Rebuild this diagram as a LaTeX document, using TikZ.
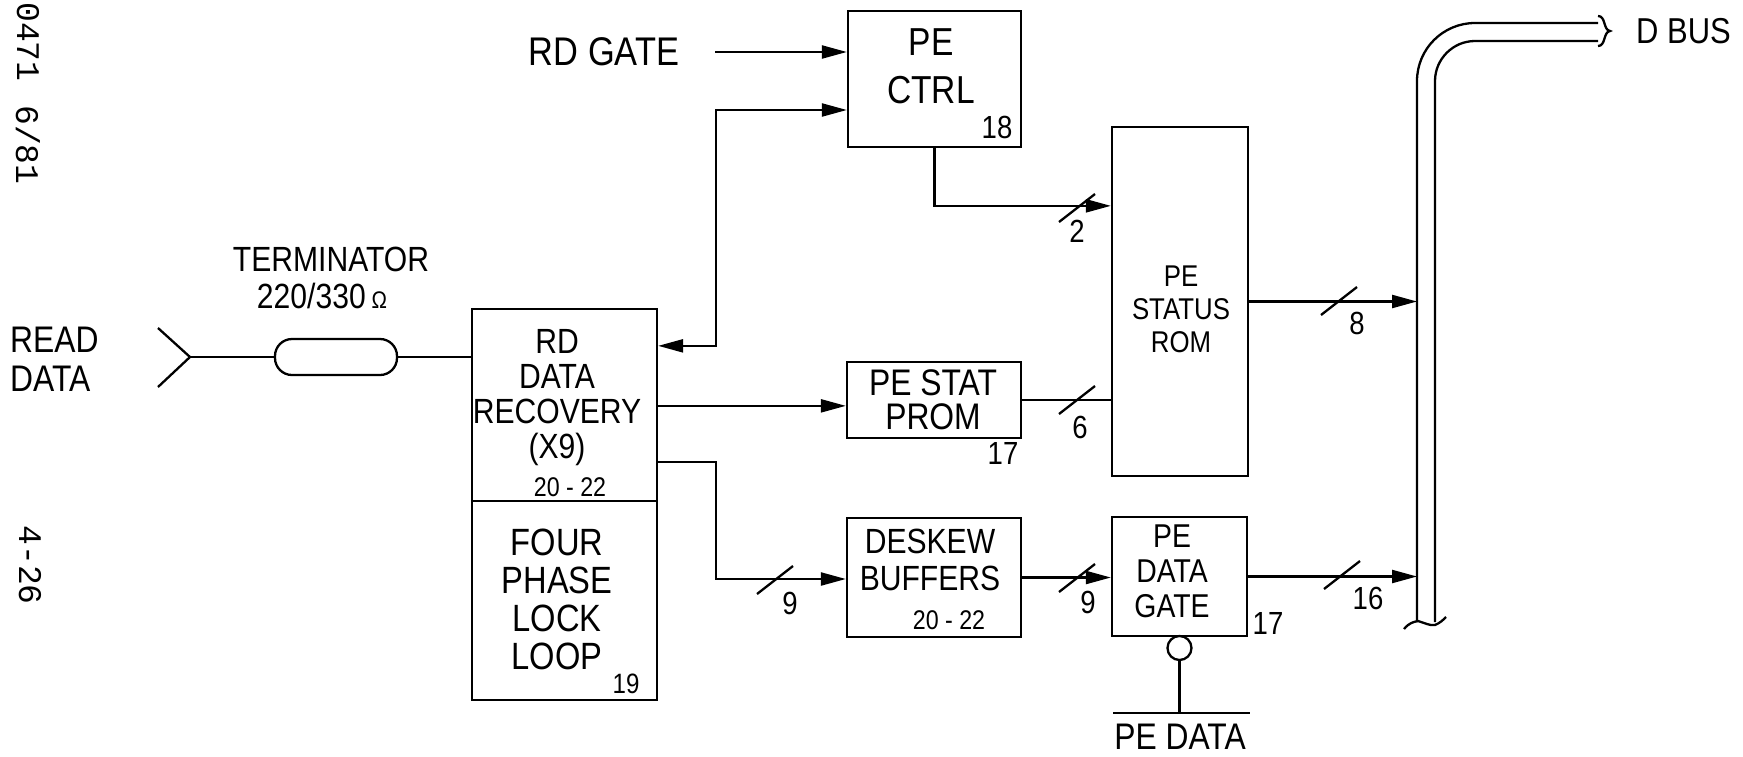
\documentclass[tikz,border=0pt]{standalone}
\usepackage{fontspec}
\setmainfont{Liberation Sans}
\newfontfamily\hand[FakeStretch=0.86]{Liberation Sans}
\newfontfamily\typew{Liberation Mono}
\usetikzlibrary{arrows.meta}
\newcommand{\fsz}[2]{\fontsize{#1}{#2}\selectfont}
\tikzset{
  sig/.style={line width=2.3pt},
  tip/.style={-{Triangle[length=25pt,width=13pt]}},
  twotip/.style={{Triangle[length=25pt,width=13pt]}-{Triangle[length=25pt,width=13pt]}},
  box/.style={draw, line width=2.3pt, inner sep=0pt},
  txt/.style={inner sep=0pt, align=center},
  num/.style={inner sep=0pt, font=\hand\fsz{32}{32}},
  tw/.style={inner sep=0pt, font=\typew\fsz{33}{33}},
  bslash/.pic={\draw[line width=2.3pt] (-18,15) -- (18,-13);}
}
\begin{document}
\begin{tikzpicture}[x=1pt,y=-1pt]
\useasboundingbox (0,0) rectangle (1743,756);

% margin typewriter notes
\node[tw, rotate=-90] (m1) at (28,42) {0471};
\node[tw, rotate=-90] (m2) at (28,145) {6/81};
\node[tw, rotate=-90] (m3) at (30,565) {4-26};

% boxes
\node[box, minimum width=173pt, minimum height=136pt] (ctrl) at (934.5,79) {};
\node[box, minimum width=185pt, minimum height=391pt] (rd) at (564.5,504.5) {};
\node[box, minimum width=174pt, minimum height=76pt] (prom) at (934,400) {};
\node[box, minimum width=174pt, minimum height=119pt] (desk) at (934,577.5) {};
\node[box, minimum width=136pt, minimum height=349pt] (rom) at (1180,301.5) {};
\node[box, minimum width=135pt, minimum height=119pt] (gate) at (1179.5,576.5) {};
\node[box, rounded corners=17pt, minimum width=122pt, minimum height=36pt] (res) at (336,357) {};
\draw[sig] ([yshift=-193pt]rd.north west) -- ([yshift=-193pt]rd.north east);

% texts
\node[txt, font=\hand\fsz{39}{48}, anchor=north] (tctrl) at (931,28) {PE\\CTRL};
\node[num] (n18) at (997,127) {18};
\node[txt, font=\hand\fsz{35}{35}, anchor=north] (trd) at (557,329) {RD\\DATA\\RECOVERY\\(X9)};
\node[txt, font=\hand\fsz{27}{27}] (trdn) at (570,487) {20 - 22};
\node[txt, font=\hand\fsz{38}{38}, anchor=north] (tpll) at (557,529) {FOUR\\PHASE\\LOCK\\LOOP};
\node[txt, font=\hand\fsz{28}{28}] (n19) at (626,684) {19};
\node[txt, font=\hand\fsz{37}{34}, anchor=north] (tprom) at (933,369) {PE STAT\\PROM};
\node[num] (n17a) at (1003,453) {17};
\node[txt, font=\hand\fsz{35}{37}, anchor=north] (tdesk) at (930,529) {DESKEW\\BUFFERS};
\node[txt, font=\hand\fsz{27}{27}] (tdeskn) at (949,620) {20 - 22};
\node[txt, font=\hand\fsz{30}{33}, anchor=north] (trom) at (1181,266) {PE\\STATUS\\ROM};
\node[txt, font=\hand\fsz{33}{35}, anchor=north] (tgate) at (1172,525) {PE\\DATA\\GATE};
\node[num] (n17b) at (1268,623) {17};
\node[txt, font=\hand\fsz{40}{40}] (trdg) at (604,52) {RD GATE};
\node[txt, font=\hand\fsz{35}{35}] (tterm) at (331,259) {TERMINATOR};
\node[txt, font=\hand\fsz{35}{35}] (tohm) at (322,296) {220/330\,{\fsz{24}{24}Ω}};
\node[txt, font=\hand\fsz{37}{39}, align=left, anchor=north west] (tread) at (10,327) {READ\\DATA};
\node[txt, font=\hand\fsz{36}{36}, anchor=west] (tdbus) at (1636,31) {D BUS};
\node[txt, font=\hand\fsz{37}{37}] (tped) at (1180,737) {PE DATA};

% bus
\draw[sig] (1417,622) -- (1417,81) .. controls (1417,49) and (1443,23) .. (1475,23) -- (1598,23);
\draw[sig] (1435,622) -- (1435,81) .. controls (1435,59) and (1453,41) .. (1475,41) -- (1598,41);
\draw[sig] (1598,16) .. controls (1606,16) and (1603,30) .. (1610,31) .. controls (1603,32) and (1606,46) .. (1598,46);
\draw[sig] (1404,629) .. controls (1409,623) and (1413,622) .. (1418,621) .. controls (1425,623) and (1430,626) .. (1435,625) .. controls (1440,623) and (1443,620) .. (1446,617);
\coordinate (bus) at (1417,300);

% read data input
\coordinate (rdin) at (190,357);
\coordinate (rdu) at (158,328);
\coordinate (rdl) at (158,387);
\draw[sig] (rdu) -- (rdin) -- (rdl);
\draw[sig] (rdin) -- (res.west);
\draw[sig] (res.east) -- (res.east -| rd.west);

% connectors
\coordinate (rdgS) at (715,52);
\draw[sig, tip] (rdgS) -- (rdgS -| ctrl.west);
\coordinate (jn1) at (716,110);
\draw[sig, twotip] ([yshift=-38pt]rd.north east) -| (jn1) -- (jn1 -| ctrl.west);
\draw[sig, tip] ([yshift=-98pt]rd.north east) -- ([yshift=-45pt]prom.north west);
\coordinate (jn2) at (716,579);
\draw[sig, tip] ([yshift=-154pt]rd.north east) -| (jn2) -- (jn2 -| desk.west);
\draw[sig, tip] (ctrl.south) |- ([yshift=-80pt]rom.north west);
\draw[sig] (prom.east) -- (prom.east -| rom.west);
\draw[sig, tip] (rom.east) -- (rom.east -| bus);
\draw[sig, tip] (desk.east) -- (desk.east -| gate.west);
\draw[sig, tip] (gate.east) -- (gate.east -| bus);

% inverted input
\node[draw, circle, line width=2.3pt, minimum size=24pt, inner sep=0pt] (bub) at (1179.5,648) {};
\coordinate (pdj) at (1179.5,713);
\coordinate (barL) at (1113,713);
\coordinate (barR) at (1250,713);
\draw[sig] (bub.south) -- (pdj);
\draw[sig] (barL) -- (barR);

% bus-width slashes and counts
\pic at (775,579) {bslash};
\pic at (1077,207) {bslash};
\pic at (1077,399) {bslash};
\pic at (1339,300) {bslash};
\pic at (1077,577) {bslash};
\pic at (1342,574) {bslash};
\node[num] (w9a) at (790,603) {9};
\node[num] (w2) at (1077,231) {2};
\node[num] (w6) at (1080,427) {6};
\node[num] (w8) at (1357,323) {8};
\node[num] (w9b) at (1088,602) {9};
\node[num] (w16) at (1368,598) {16};
\end{tikzpicture}
\end{document}
